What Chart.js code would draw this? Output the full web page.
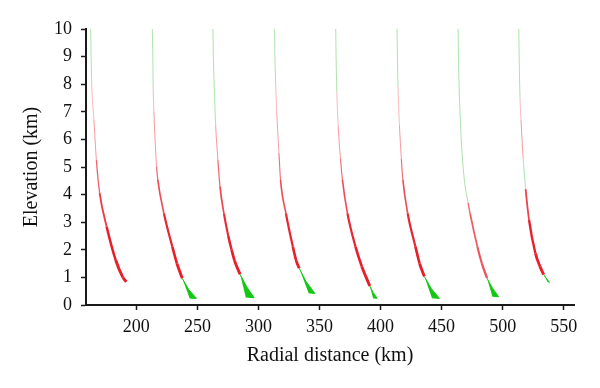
<!DOCTYPE html>
<html><head><meta charset="utf-8">
<script src="https://cdn.jsdelivr.net/npm/chart.js@4/dist/chart.umd.min.js"></script>
<style>html,body{margin:0;padding:0;background:#fff}#wrap{width:600px;height:388px}</style>
</head><body><div id="wrap"><canvas id="c" width="600" height="388"></canvas></div>
<script>
// ---- tick labels ----
const xTicks = [200, 250, 300, 350, 400, 450, 500, 550];
const yTicks = [0, 1, 2, 3, 4, 5, 6, 7, 8, 9, 10];

// ---- curves: radial distance (km) vs elevation (km) ----
const curve1X = [162.6, 163.0, 163.5, 165.3, 167.3, 170.0, 175.7, 183.1, 189.0, 191.8];
const curve1Y = [10, 9, 8.0, 6.7, 5.25, 4.05, 2.84, 1.63, 1.0, 0.84];
const curve2X = [213.1, 213.5, 213.8, 214.4, 216.6, 217.6, 222.6, 229.5, 233.3, 237.6];
const curve2Y = [10, 9, 7.9, 7.0, 5.0, 4.53, 3.32, 2.11, 1.5, 0.97];
const curve3X = [262.7, 263.1, 263.6, 265.0, 266.8, 268.5, 271.8, 275.3, 278.0, 280.5, 285.0];
const curve3Y = [10, 9, 8.2, 6.5, 5.25, 4.3, 3.3, 2.5, 2.0, 1.6, 1.11];
const curve4X = [313.2, 313.5, 313.9, 315.0, 316.8, 318.1, 322.5, 328.2, 331.0, 333.4];
const curve4Y = [10, 9, 8.3, 7.0, 5.5, 4.53, 3.32, 2.11, 1.6, 1.33];
const curve5X = [363.3, 363.6, 364.2, 365.3, 367.2, 368.8, 372.9, 379.5, 384.6, 388.2, 391.2];
const curve5Y = [10, 9, 7.7, 6.5, 5.3, 4.53, 3.32, 2.11, 1.4, 1.0, 0.69];
const curve6X = [413.5, 413.8, 414.3, 415.5, 417.0, 418.3, 422.2, 428.6, 432.0, 435.9];
const curve6Y = [10, 9, 7.9, 6.5, 5.3, 4.53, 3.32, 2.11, 1.5, 1.03];
const curve7X = [463.5, 463.8, 464.3, 465.5, 467.1, 468.6, 471.7, 473.3, 479.3, 483.0, 487.2];
const curve7Y = [10, 9, 8.0, 6.5, 5.3, 4.53, 3.7, 3.32, 2.11, 1.5, 0.97];
const curve8X = [513.2, 513.5, 514.2, 515.0, 516.8, 518.8, 521.6, 526.8, 530.6, 533.6];
const curve8Y = [10, 9, 7.5, 6.7, 5.3, 4.2, 3.08, 1.87, 1.39, 1.1];

// elevation bands (top, bottom) classified red on each curve; the rest is green
const curve1Red = [[8.0, 0]];
const curve2Red = [[7.9, 0.97]];
const curve3Red = [[6.5, 1.11]];
const curve4Red = [[8.3, 1.33]];
const curve5Red = [[7.7, 0.69]];
const curve6Red = [[7.9, 1.03]];
const curve7Red = [[3.7, 0.97]];
const curve8Red = [[7.5, 5.3], [4.2, 1.1]];

// low-level green regions (outline vertices)
const wedge2X = [237.6, 243.0, 249.3, 243.6];
const wedge2Y = [0.97, 0.55, 0.24, 0.25];
const wedge3X = [285.0, 290.5, 296.5, 289.6];
const wedge3Y = [1.11, 0.65, 0.26, 0.29];
const wedge4X = [333.4, 339.0, 346.2, 341.0];
const wedge4Y = [1.33, 0.85, 0.42, 0.44];
const wedge5X = [391.2, 394.0, 397.2, 393.8];
const wedge5Y = [0.69, 0.45, 0.24, 0.26];
const wedge6X = [435.9, 441.5, 448.2, 442.0];
const wedge6Y = [1.03, 0.6, 0.24, 0.26];
const wedge7X = [487.2, 491.5, 496.7, 491.5];
const wedge7Y = [0.97, 0.62, 0.30, 0.32];
const wedge8X = [533.6, 536.0, 538.3, 536.5];
const wedge8Y = [1.1, 0.95, 0.82, 0.86];

const curves = [
  [curve1X, curve1Y, curve1Red, null, null],
  [curve2X, curve2Y, curve2Red, wedge2X, wedge2Y],
  [curve3X, curve3Y, curve3Red, wedge3X, wedge3Y],
  [curve4X, curve4Y, curve4Red, wedge4X, wedge4Y],
  [curve5X, curve5Y, curve5Red, wedge5X, wedge5Y],
  [curve6X, curve6Y, curve6Red, wedge6X, wedge6Y],
  [curve7X, curve7Y, curve7Red, wedge7X, wedge7Y],
  [curve8X, curve8Y, curve8Red, wedge8X, wedge8Y]
];

const GREEN_LIGHT = 'rgba(60,185,60,0.42)';
const GREEN = 'rgb(18,200,18)';

function clamp01(v) { return Math.max(0, Math.min(1, v)); }
function isRed(bands, y) {
  return bands.some(b => y <= b[0] + 1e-6 && y >= b[1] - 1e-6);
}
function redStyle(y, k) {
  const a = (0.35 + 0.65 * clamp01((7 - y) / 4.5)) * k;
  const w = (0.9 + 2.0 * clamp01((5.5 - y) / 4.2)) * (k < 1 ? 0.8 : 1);
  return ['rgba(232,30,42,' + a.toFixed(3) + ')', w];
}

const datasets = [];
curves.forEach((c, i) => {
  const [xs, ys, bands, wx, wy] = c;
  const k = i === 6 ? 0.75 : 1;
  const seg = (ctx) => {
    const ym = (ctx.p0.parsed.y + ctx.p1.parsed.y) / 2;
    if (isRed(bands, ym)) return redStyle(ym, k);
    return [GREEN_LIGHT, 1];
  };
  datasets.push({
    data: xs.map((x, j) => ({x: x, y: ys[j]})),
    showLine: true,
    pointRadius: 0,
    borderWidth: 1,
    borderColor: GREEN_LIGHT,
    cubicInterpolationMode: 'monotone',
    fill: false,
    segment: {
      borderColor: ctx => seg(ctx)[0],
      borderWidth: ctx => seg(ctx)[1]
    }
  });
  if (wx) {
    datasets.push({
      data: wx.map((x, j) => ({x: x, y: wy[j]})),
      showLine: true,
      pointRadius: 0,
      borderWidth: 1,
      borderColor: GREEN,
      backgroundColor: GREEN,
      tension: 0,
      fill: 'shape'
    });
  }
});

const serif = '"Liberation Serif", "DejaVu Serif", serif';

new Chart(document.getElementById('c'), {
  type: 'scatter',
  data: {datasets},
  options: {
    responsive: false,
    animation: false,
    layout: {padding: {left: 0, right: 26, top: 29, bottom: 0}},
    plugins: {legend: {display: false}, tooltip: {enabled: false}},
    scales: {
      x: {
        type: 'linear', min: 158.8, max: 558.4,
        afterBuildTicks: s => { s.ticks = xTicks.map(v => ({value: v})); },
        afterFit: s => { s.height = 83; },
        border: {display: true, color: '#1a1a1a', width: 2},
        grid: {display: true, drawOnChartArea: false, drawTicks: true, tickLength: 5, tickColor: '#1a1a1a', tickWidth: 1.5},
        ticks: {font: {family: serif, size: 18}, color: '#111', padding: 6, maxRotation: 0},
        title: {display: true, text: 'Radial distance (km)', font: {family: serif, size: 20}, color: '#111', padding: {top: 0, bottom: 20}}
      },
      y: {
        type: 'linear', min: 0, max: 10,
        afterBuildTicks: s => { s.ticks = yTicks.map(v => ({value: v})); },
        afterFit: s => { s.width = 86; },
        border: {display: true, color: '#1a1a1a', width: 2},
        grid: {display: true, drawOnChartArea: false, drawTicks: true, tickLength: 5, tickColor: '#1a1a1a', tickWidth: 1.5},
        ticks: {font: {family: serif, size: 18}, color: '#111', padding: 9},
        title: {display: true, text: 'Elevation (km)', font: {family: serif, size: 20}, color: '#111', padding: {top: 20, bottom: 0}}
      }
    }
  }
});
</script>
</body></html>
